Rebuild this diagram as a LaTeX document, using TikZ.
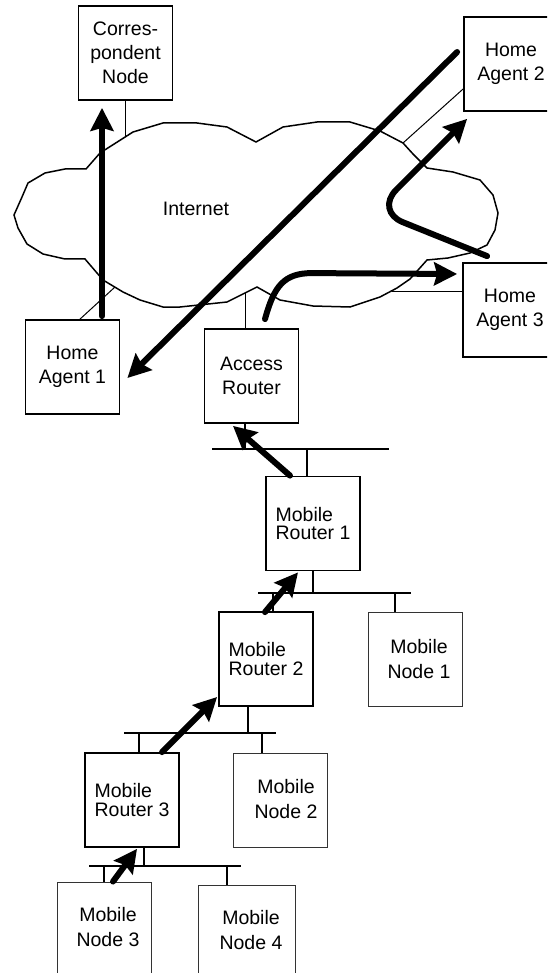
\documentclass[tikz,border=0pt]{standalone}
\usepackage{fontspec}
\setmainfont{Liberation Sans}
\usetikzlibrary{arrows.meta,calc}
\begin{document}
\begin{tikzpicture}[x=1pt,y=-1pt,
  box/.style={draw=black, line width=1.8pt, minimum width=94pt, minimum height=94pt, inner sep=0pt, align=center, font=\fontsize{19.5}{24}\selectfont},
  rbox/.style={box, align=left, font=\fontsize{19.5}{18.5}\selectfont},
  mbox/.style={draw=black!80, line width=0.9pt, minimum width=94pt, minimum height=94pt, inner sep=0pt},
  txt/.style={align=center, font=\fontsize{19.5}{25}\selectfont, inner sep=0pt},
  link/.style={line width=1pt},
  blink/.style={line width=1.5pt},
  bus/.style={line width=2pt},
  cloudline/.style={line width=1.5pt, line join=miter},
  flow/.style={line width=6pt, line cap=round, -{Stealth[length=23pt,width=23pt,inset=3pt]}},
]
\clip (0,0) rectangle (547,973);
\useasboundingbox (0,0) rectangle (547,973);

% Internet cloud
\draw[cloudline] (86,169) -- (100,153) -- (133,132) -- (163,123) -- (197,123) -- (227,127) -- (256,142) -- (283,127) -- (317,122) -- (350,122) -- (380,131) -- (403,143) -- (413,154) -- (427,168) -- (453,172) -- (480,180) -- (493,195) -- (498,213) -- (495,230) -- (487,245) -- (470,253) -- (448,258) -- (427,260) -- (410,279) -- (397,288) -- (380,297) -- (350,307) -- (313,306) -- (280,300) -- (257,287) -- (227,302) -- (180,307) -- (163,307) -- (140,300) -- (123,292) -- (103,280) -- (85,259) -- (65,259) -- (43,254) -- (27,244) -- (18,228) -- (14,215) -- (22,197) -- (28,183) -- (45,173) -- (65,169) -- cycle;
\node[txt] (inet) at (196,209) {Internet};

\coordinate (cloudCN) at (125.5,137);
\coordinate (cloudHA1) at (115,287);
\coordinate (cloudAR) at (245,293);
\coordinate (cloudHA2) at (403,143);
\coordinate (cloudHA3) at (392,291);

% Boxes
\node[box] (cn) at (125.5,53) {Corres-\\pondent\\Node};
\node[box] (ha1) at (72.5,367) {Home\\Agent 1};
\node[box] (ar) at (251.5,376) {Access\\Router};
\node[box] (ha2) at (511,64) {Home\\Agent 2};
\node[box] (ha3) at (510,310) {Home\\Agent 3};
\node[rbox] (mr1) at (313,523.5) {Mobile\\Router 1};
\node[rbox] (mr2) at (266,659) {Mobile\\Router 2};
\node[rbox] (mr3) at (132,800) {Mobile\\Router 3};
\node[mbox] (mn1) at (415,659) {};
\node[txt] (mn1t) at (419,659) {Mobile\\Node 1};
\node[mbox] (mn2) at (280,800) {};
\node[txt] (mn2t) at (286,799) {Mobile\\Node 2};
\node[mbox, minimum height=100pt] (mn3) at (104,932) {};
\node[txt] (mn3t) at (108,927) {Mobile\\Node 3};
\node[mbox, minimum height=100pt, minimum width=97pt] (mn4) at (246.5,935) {};
\node[txt] (mn4t) at (251,930) {Mobile\\Node 4};

% Links to cloud
\draw[link] (cn.south) -- (cloudCN);
\draw[link] ($(ha1.north)+(7.5,0)$) -- (cloudHA1);
\draw[link] (cloudAR) -- (cloudAR |- ar.north);
\draw[link] (cloudHA2) -- ($(ha2.west)+(0,25)$);
\draw[link] (cloudHA3) -- (cloudHA3 -| ha3.west);

% Buses
\coordinate (b1a) at (212,449); \coordinate (b1b) at (389,449);
\coordinate (b2a) at (258,593); \coordinate (b2b) at (411,593);
\coordinate (b3a) at (124,733); \coordinate (b3b) at (276,733);
\coordinate (b4a) at (89,866);  \coordinate (b4b) at (241,866);
\draw[bus] (b1a) -- (b1b);
\draw[bus] (b2a) -- (b2b);
\draw[bus] (b3a) -- (b3b);
\draw[bus] (b4a) -- (b4b);

\draw[blink] ([xshift=-6.5pt]ar.south) -- ([xshift=-6.5pt]ar.south |- b1a);
\draw[blink] ([xshift=-6pt]mr1.north) -- ([xshift=-6pt]mr1.north |- b1a);
\draw[blink] (mr1.south) -- (mr1.south |- b2a);
\draw[blink] ([xshift=7pt]mr2.north) -- ([xshift=7pt]mr2.north |- b2a);
\draw[blink] ([xshift=-20pt]mn1.north) -- ([xshift=-20pt]mn1.north |- b2a);
\draw[blink] ([xshift=-18pt]mr2.south) -- ([xshift=-18pt]mr2.south |- b3a);
\draw[blink] ([xshift=7pt]mr3.north) -- ([xshift=7pt]mr3.north |- b3a);
\draw[blink] ([xshift=-18pt]mn2.north) -- ([xshift=-18pt]mn2.north |- b3a);
\draw[blink] ([xshift=12pt]mr3.south) -- ([xshift=12pt]mr3.south |- b4a);
\draw[blink] (mn3.north) -- (mn3.north |- b4a);
\draw[blink] ([xshift=-19.5pt]mn4.north) -- ([xshift=-19.5pt]mn4.north |- b4a);

% Flow arrows
\draw[flow] ($(ha1.north)+(29.5,-3)$) -- ($(cn.south)+(-23.5,7)$);
\draw[flow] ($(ha2.west)+(-6,-12)$) -- ($(ha1.east)+(7,11)$);
\draw[flow] ($(ar.north)+(13.5,-9)$) .. controls +(9,-33) and +(-28,0) .. +(47,-46) -- ($(ha3.west)+(-5,-36)$);
\draw[flow, rounded corners=30pt] ($(ha3.north west)+(25,-6)$) -- (375,211) -- ($(ha2.south west)+(4,7)$);
\draw[flow] ($(mr1.north)+(-23,0)$) -- ($(ar.south)+(-18.5,2)$);
\draw[flow] ($(mr2.north)+(-1,1)$) -- ($(mr1.south)+(-15,1)$);
\draw[flow] ($(mr3.north)+(30,0)$) -- ($(mr2.west)+(-1,38)$);
\draw[flow] ($(mn3.north)+(9,0)$) -- ($(mr3.south)+(5,1)$);
\end{tikzpicture}
\end{document}
